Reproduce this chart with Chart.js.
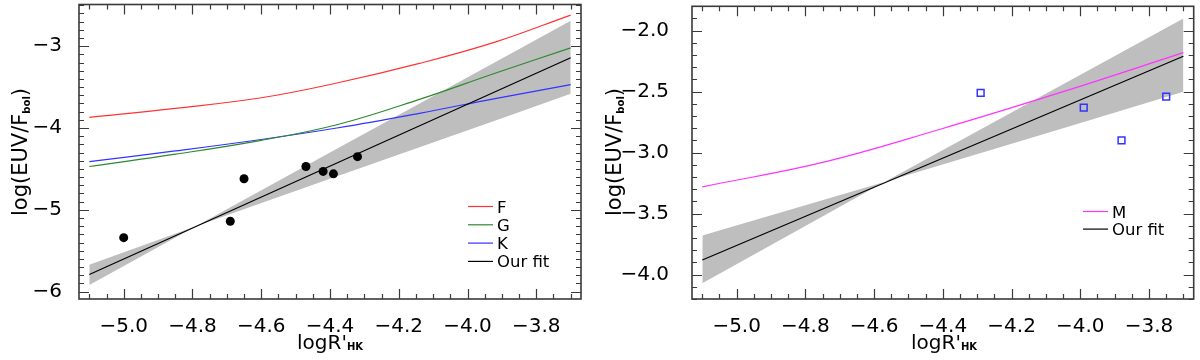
<!DOCTYPE html>
<html lang="en">
<head>
<meta charset="utf-8">
<title>log(EUV/Fbol) vs logR'HK</title>
<style>
  html, body { margin: 0; padding: 0; background: #fff; }
  .panel { position: absolute; top: 0; width: 600px; height: 360px; }
  #left { left: 0; }
  #right { left: 600px; }
</style>
</head>
<body>
<div class="panel" id="left"><canvas id="chartFGK" width="600" height="360"></canvas></div>
<div class="panel" id="right"><canvas id="chartM" width="600" height="360"></canvas></div>

<script src="https://cdn.jsdelivr.net/npm/chart.js/dist/chart.umd.min.js"></script>
<script>
// ---- left panel data (F, G, K stars) ----
const starX = [-5.0, -4.69, -4.65, -4.47, -4.42, -4.39, -4.32];
const starY = [-5.34, -5.14, -4.62, -4.47, -4.53, -4.56, -4.35];

const curveX = [-5.1, -4.85, -4.6, -4.38, -4.14, -3.92, -3.7];
const curveF = [-3.87, -3.76, -3.63, -3.45, -3.21, -2.95, -2.62];
const curveG = [-4.47, -4.32, -4.15, -3.96, -3.65, -3.33, -3.02];
const curveK = [-4.41, -4.28, -4.14, -4.00, -3.82, -3.64, -3.47];

const fitX = [-5.1, -3.7];
const fitY = [-5.79, -3.14];

const bandX  = [-5.1, -4.79, -4.4, -3.9, -3.7];
const bandHi = [-5.67, -5.20, -4.30, -3.15, -2.69];
const bandLo = [-5.92, -5.20, -4.62, -3.88, -3.58];

// ---- right panel data (M stars) ----
const mStarX = [-4.29, -3.99, -3.88, -3.75];
const mStarY = [-2.51, -2.63, -2.90, -2.54];

const curveMX = [-5.1, -4.75, -4.41, -4.05, -3.7];
const curveM  = [-3.28, -3.08, -2.81, -2.50, -2.18];

const fitMX = [-5.1, -3.7];
const fitMY = [-3.88, -2.21];

const bandMX  = [-5.1, -4.57, -4.05, -3.7];
const bandMHi = [-3.68, -3.24, -2.44, -1.90];
const bandMLo = [-4.07, -3.24, -2.80, -2.50];

Chart.defaults.font.family = "'DejaVu Sans', sans-serif";
Chart.defaults.color = '#000';

const pts = (xs, ys) => xs.map((x, i) => ({ x: x, y: ys[i] }));
const fmt = dec => v => (v < 0 ? '\u2212' : '') + Math.abs(v).toFixed(dec);

function line(label, xs, ys, color, smooth) {
  return {
    label: label, data: pts(xs, ys), showLine: true, borderColor: color,
    borderWidth: 1.2, pointRadius: 0, fill: false, tension: smooth ? 0.4 : 0
  };
}
function band(xs, hi, lo) {
  return [
    { data: pts(xs, hi), showLine: true, borderWidth: 0, borderColor: 'rgba(0,0,0,0)',
      pointRadius: 0, fill: '+1', backgroundColor: '#bebebe', tension: 0 },
    { data: pts(xs, lo), showLine: true, borderWidth: 0, borderColor: 'rgba(0,0,0,0)',
      pointRadius: 0, fill: false, tension: 0 }
  ];
}

// frame, inward major/minor ticks on all four sides, axis titles and legend
function decor(cfg) {
  return {
    id: 'decor',
    afterDatasetsDraw(chart) {
      const { ctx, chartArea: a } = chart;
      const xs = chart.scales.x, ys = chart.scales.y;
      const marks = (scale, step, sub) => {
        const d = step / sub, out = [];
        for (let k = Math.ceil(scale.min / d - 1e-6); k * d <= scale.max + 1e-9; k++) {
          const v = k * d;
          out.push({ v: v, major: Math.abs(v / step - Math.round(v / step)) < 1e-6 });
        }
        return out;
      };
      ctx.save();
      ctx.strokeStyle = '#3a3a3a';
      ctx.lineWidth = 1.2;
      ctx.beginPath();
      marks(xs, cfg.xStep, cfg.xSub).forEach(t => {
        const p = Math.round(xs.getPixelForValue(t.v)) + 0.5, len = t.major ? 10 : 5;
        ctx.moveTo(p, a.bottom); ctx.lineTo(p, a.bottom - len);
        ctx.moveTo(p, a.top); ctx.lineTo(p, a.top + len);
      });
      marks(ys, cfg.yStep, cfg.ySub).forEach(t => {
        const p = Math.round(ys.getPixelForValue(t.v)) + 0.5, len = t.major ? 10 : 5;
        ctx.moveTo(a.left, p); ctx.lineTo(a.left + len, p);
        ctx.moveTo(a.right, p); ctx.lineTo(a.right - len, p);
      });
      ctx.stroke();
      ctx.lineWidth = 1.6;
      ctx.strokeRect(a.left, a.top, a.right - a.left, a.bottom - a.top);
      ctx.restore();
    },
    afterDraw(chart) {
      const ctx = chart.ctx;
      const run = (parts, x0, y0) => {
        let x = x0;
        parts.forEach(p => {
          ctx.font = p.f;
          ctx.fillText(p.t, x, y0 + (p.dy || 0));
          x += ctx.measureText(p.t).width;
        });
      };
      const width = parts => parts.reduce((s, p) => { ctx.font = p.f; return s + ctx.measureText(p.t).width; }, 0);
      ctx.save();
      ctx.fillStyle = '#000';
      ctx.textBaseline = 'alphabetic';
      // x title
      run(cfg.xTitle, cfg.xTitleX - width(cfg.xTitle) / 2, cfg.xTitleY);
      // y title (rotated)
      ctx.save();
      ctx.translate(cfg.yTitleX, cfg.yTitleY);
      ctx.rotate(-Math.PI / 2);
      run(cfg.yTitle, -width(cfg.yTitle) / 2, 0);
      ctx.restore();
      // legend
      ctx.font = "16.5px 'DejaVu Sans'";
      cfg.legend.items.forEach((idx, i) => {
        const ds = chart.data.datasets[idx];
        const y = cfg.legend.y + i * cfg.legend.gap + 0.5;
        ctx.strokeStyle = ds.borderColor;
        ctx.lineWidth = 1.2;
        ctx.beginPath();
        ctx.moveTo(cfg.legend.x, y);
        ctx.lineTo(cfg.legend.x + 25, y);
        ctx.stroke();
        ctx.fillText(ds.label, cfg.legend.x + 29, y + 6);
      });
      ctx.restore();
    }
  };
}

const xTitle = [
  { t: "logR'", f: "20px 'DejaVu Sans'" },
  { t: 'HK', f: "bold 10px 'DejaVu Sans'", dy: 1 }
];
const yTitle = [
  { t: 'log(EUV/F', f: "21px 'DejaVu Sans'" },
  { t: 'bol', f: "bold 10px 'DejaVu Sans'", dy: 3 },
  { t: ')', f: "21px 'DejaVu Sans'" }
];

function scales(yMin, yMax, yStep, yDec, yWidth, yPad) {
  return {
    x: {
      type: 'linear', min: -5.13, max: -3.67,
      grid: { display: false }, border: { display: false },
      ticks: { stepSize: 0.2, includeBounds: false, padding: 8, maxRotation: 0,
               autoSkip: false, font: { size: 20 }, color: '#000', callback: fmt(1) },
      afterFit: s => { s.height = 61; s.paddingLeft = 0; s.paddingRight = 0; }
    },
    y: {
      type: 'linear', min: yMin, max: yMax,
      grid: { display: false }, border: { display: false },
      ticks: { stepSize: yStep, includeBounds: false, padding: yPad,
               font: { size: 20 }, color: '#000', callback: fmt(yDec) },
      afterFit: s => { s.width = yWidth; s.paddingTop = 0; s.paddingBottom = 0; }
    }
  };
}

const baseOpts = {
  responsive: false,
  animation: false,
  plugins: { legend: { display: false }, tooltip: { enabled: false } }
};

// left panel
new Chart(document.getElementById('chartFGK'), {
  type: 'scatter',
  data: {
    datasets: [
      { label: 'stars', data: pts(starX, starY), pointRadius: 4.5, pointBackgroundColor: '#000',
        pointBorderColor: '#000', pointBorderWidth: 0 },
      line('Our fit', fitX, fitY, '#000', false),
      line('F', curveX, curveF, '#ff3333', true),
      line('G', curveX, curveG, '#2e8a2e', true),
      line('K', curveX, curveK, '#3333ff', true),
      ...band(bandX, bandHi, bandLo)
    ]
  },
  options: Object.assign({}, baseOpts, {
    layout: { padding: { top: 3, right: 19, bottom: 0, left: 0 } },
    scales: scales(-6.09, -2.49, 1, 0, 79, 9)
  }),
  plugins: [decor({
    xStep: 0.2, xSub: 4, yStep: 1, ySub: 10,
    xTitle: xTitle, xTitleX: 330, xTitleY: 349,
    yTitle: yTitle, yTitleX: 27, yTitleY: 152,
    legend: { x: 468, y: 206, gap: 18.3, items: [2, 3, 4, 1] }
  })]
});

// right panel
new Chart(document.getElementById('chartM'), {
  type: 'scatter',
  data: {
    datasets: [
      { label: 'M stars', data: pts(mStarX, mStarY), pointStyle: 'rect', pointRadius: 4.8,
        pointBackgroundColor: 'rgba(0,0,0,0)', pointBorderColor: '#3333ff', pointBorderWidth: 1.5 },
      line('Our fit', fitMX, fitMY, '#000', false),
      line('M', curveMX, curveM, '#ff33ff', true),
      ...band(bandMX, bandMHi, bandMLo)
    ]
  },
  options: Object.assign({}, baseOpts, {
    layout: { padding: { top: 3, right: 4, bottom: 0, left: 0 } },
    scales: scales(-4.2, -1.8, 0.5, 1, 92, 15)
  }),
  plugins: [decor({
    xStep: 0.2, xSub: 4, yStep: 0.5, ySub: 5,
    xTitle: xTitle, xTitleX: 344, xTitleY: 349,
    yTitle: yTitle, yTitleX: 21, yTitleY: 152,
    legend: { x: 483, y: 211, gap: 17.6, items: [2, 1] }
  })]
});
</script>
</body>
</html>
